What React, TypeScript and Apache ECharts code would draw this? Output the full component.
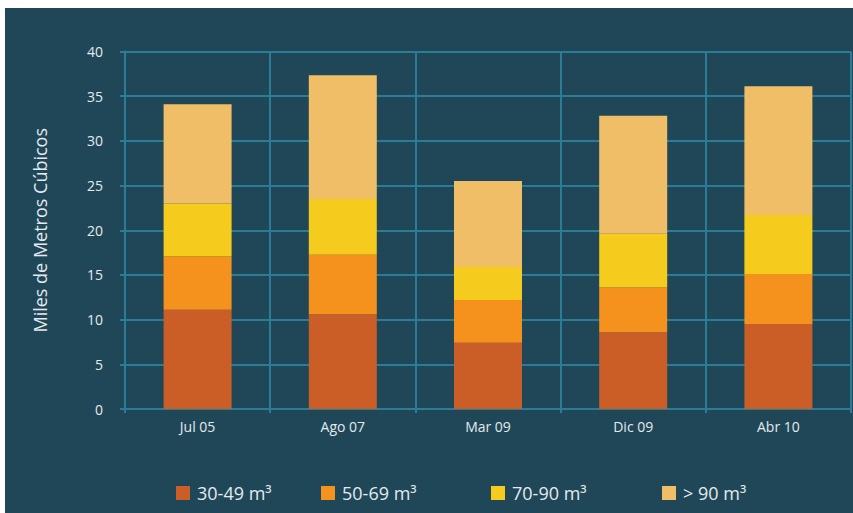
import React, { useEffect, useRef } from "react";
import * as echarts from "echarts";

const categories = ["Jul 05", "Ago 07", "Mar 09", "Dic 09", "Abr 10"];
const seriesNames = ["30-49 m³", "50-69 m³", "70-90 m³", "> 90 m³"];
const s30_49 = [11.1, 10.6, 7.4, 8.6, 9.5];
const s50_69 = [6.0, 6.65, 4.8, 5.0, 5.6];
const s70_90 = [5.9, 6.25, 3.7, 6.0, 6.6];
const s90plus = [11.1, 13.85, 9.6, 13.2, 14.4];
const yTicks = { min: 0, max: 40, interval: 5 };

const colors = ["#cb5e27", "#f5921e", "#f5cb1e", "#f1be68"];
const gridColor = "#2b7d97";
const textColor = "#e4eaee";
const font = "'Open Sans', 'Noto Sans', sans-serif";

export default function App() {
  const ref = useRef<HTMLDivElement>(null);
  useEffect(() => {
    if (!ref.current) return;
    const chart = echarts.init(ref.current, null, { renderer: "svg" });
    const values = [s30_49, s50_69, s70_90, s90plus];
    const legendLefts = [171, 316, 486, 657];
    chart.setOption({
      animation: false,
      backgroundColor: "#1f4758",
      textStyle: { fontFamily: font },
      grid: { left: 120, right: 2, top: 43.5, bottom: 104, containLabel: false },
      legend: seriesNames.map((n, i) => ({
        data: [n],
        left: legendLefts[i],
        top: 476,
        padding: 0,
        itemWidth: 14,
        itemHeight: 14,
        icon: "rect",
        selectedMode: false,
        textStyle: { color: textColor, fontSize: 18, fontFamily: font, padding: [0, 0, 0, 2] },
      })),
      xAxis: {
        type: "category",
        data: categories,
        axisLine: { lineStyle: { color: gridColor, width: 2 } },
        axisTick: { show: true, length: 4, lineStyle: { color: gridColor, width: 2 } },
        splitLine: { show: true, interval: 0, lineStyle: { color: gridColor, width: 2 } },
        axisLabel: { color: textColor, fontSize: 14, margin: 10, fontFamily: font },
      },
      yAxis: {
        type: "value",
        min: yTicks.min,
        max: yTicks.max,
        interval: yTicks.interval,
        name: "Miles de Metros Cúbicos",
        nameLocation: "middle",
        nameGap: 76,
        nameTextStyle: { color: textColor, fontSize: 18, fontFamily: font },
        axisLine: { show: true, lineStyle: { color: gridColor, width: 2 } },
        axisTick: { show: true, length: 5, lineStyle: { color: gridColor, width: 2 } },
        splitLine: { show: true, lineStyle: { color: gridColor, width: 2 } },
        axisLabel: { color: textColor, fontSize: 14, margin: 22, fontFamily: font },
      },
      series: seriesNames.map((n, i) => ({
        name: n,
        type: "bar",
        stack: "total",
        data: values[i],
        barWidth: 68,
        itemStyle: { color: colors[i] },
      })),
    });
    return () => chart.dispose();
  }, []);
  return (
    <div style={{ position: "fixed", left: 0, top: 0, width: 853, height: 513, background: "#fff" }}>
      <div ref={ref} style={{ position: "absolute", left: 5, top: 8, width: 848, height: 505 }} />
    </div>
  );
}
